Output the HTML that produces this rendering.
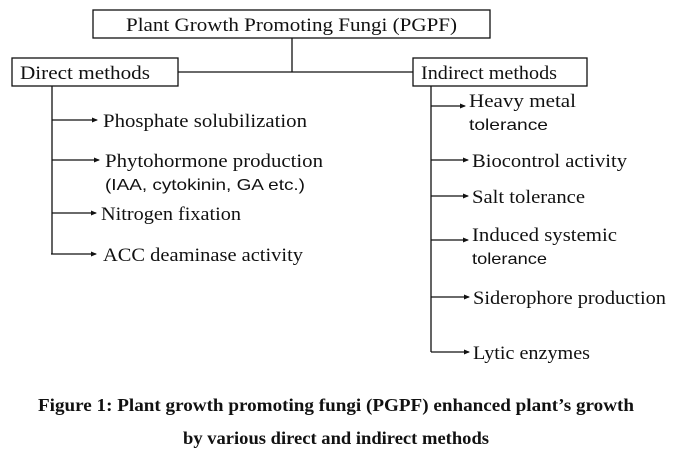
<!DOCTYPE html>
<html><head><style>
body{margin:0;background:#fff;}
svg text{font-family:"Liberation Serif",serif;font-size:19px;fill:#111;}
.s{font-family:"Liberation Sans",sans-serif;font-size:16px;}
.c{font-weight:bold;font-size:18px;}
</style></head><body>
<svg width="675" height="456" viewBox="0 0 675 456">
<defs><marker id="a" markerWidth="6" markerHeight="6" refX="5" refY="3" orient="auto" markerUnits="userSpaceOnUse"><path d="M0,0.5L6,3L0,5.5z" fill="#111"/></marker></defs>
<g stroke="#111" stroke-width="1.3" fill="none">
<rect x="93" y="10" width="397" height="28"/>
<rect x="12" y="58" width="166" height="28"/>
<rect x="413" y="58" width="174" height="28"/>
<line x1="292" y1="38" x2="292" y2="72"/>
<line x1="178" y1="72" x2="413" y2="72"/>
<line x1="52" y1="86" x2="52" y2="254"/>
<line x1="52" y1="120" x2="97" y2="120" marker-end="url(#a)"/>
<line x1="52" y1="160" x2="99" y2="160" marker-end="url(#a)"/>
<line x1="52" y1="213" x2="96" y2="213" marker-end="url(#a)"/>
<line x1="51" y1="254" x2="96" y2="254" marker-end="url(#a)"/>
<line x1="431" y1="86" x2="431" y2="352"/>
<line x1="431" y1="106" x2="465" y2="106" marker-end="url(#a)"/>
<line x1="431" y1="160" x2="468" y2="160" marker-end="url(#a)"/>
<line x1="431" y1="196" x2="468" y2="196" marker-end="url(#a)"/>
<line x1="431" y1="240" x2="468" y2="240" marker-end="url(#a)"/>
<line x1="431" y1="297" x2="469" y2="297" marker-end="url(#a)"/>
<line x1="431" y1="352" x2="469" y2="352" marker-end="url(#a)"/>
</g>
<text x="126" y="31" textLength="331" lengthAdjust="spacingAndGlyphs">Plant Growth Promoting Fungi (PGPF)</text>
<text x="20" y="79" textLength="130" lengthAdjust="spacingAndGlyphs">Direct methods</text>
<text x="421" y="79" textLength="136" lengthAdjust="spacingAndGlyphs">Indirect methods</text>
<text x="103" y="127" textLength="204" lengthAdjust="spacingAndGlyphs">Phosphate solubilization</text>
<text x="105" y="167" textLength="218" lengthAdjust="spacingAndGlyphs">Phytohormone production</text>
<text class="s" x="105" y="190" textLength="200" lengthAdjust="spacingAndGlyphs">(IAA, cytokinin, GA etc.)</text>
<text x="101" y="220" textLength="140" lengthAdjust="spacingAndGlyphs">Nitrogen fixation</text>
<text x="103" y="261" textLength="200" lengthAdjust="spacingAndGlyphs">ACC deaminase activity</text>
<text x="469" y="107" textLength="107" lengthAdjust="spacingAndGlyphs">Heavy metal</text>
<text class="s" x="469" y="130" textLength="79" lengthAdjust="spacingAndGlyphs">tolerance</text>
<text x="472" y="167" textLength="155" lengthAdjust="spacingAndGlyphs">Biocontrol activity</text>
<text x="472" y="203" textLength="113" lengthAdjust="spacingAndGlyphs">Salt tolerance</text>
<text x="472" y="241" textLength="145" lengthAdjust="spacingAndGlyphs">Induced systemic</text>
<text class="s" x="472" y="264" textLength="75" lengthAdjust="spacingAndGlyphs">tolerance</text>
<text x="473" y="304" textLength="193" lengthAdjust="spacingAndGlyphs">Siderophore production</text>
<text x="473" y="359" textLength="117" lengthAdjust="spacingAndGlyphs">Lytic enzymes</text>
<text class="c" x="38" y="411" textLength="596" lengthAdjust="spacingAndGlyphs">Figure 1: Plant growth promoting fungi (PGPF) enhanced plant’s growth</text>
<text class="c" x="183" y="444" textLength="306" lengthAdjust="spacingAndGlyphs">by various direct and indirect methods</text>
</svg>
</body></html>
